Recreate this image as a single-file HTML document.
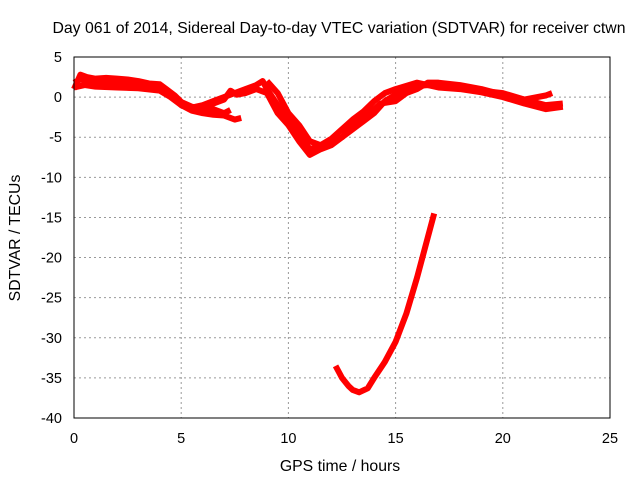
<!DOCTYPE html>
<html><head><meta charset="utf-8"><style>
body{margin:0;background:#fff}
svg{display:block;font-family:"Liberation Sans",sans-serif}
</style></head><body>
<svg id="chart" width="640" height="480">
<rect width="640" height="480" fill="#fff"/>
<text x="339" y="33" font-size="15.8" text-anchor="middle">Day 061 of 2014, Sidereal Day-to-day VTEC variation (SDTVAR) for receiver ctwn</text>
<g id="grid"></g>
<g id="series"></g>
<rect x="74" y="57" width="536" height="361" fill="none" stroke="#000"/>
<g id="ticks" font-size="14.5"></g>
<text x="340" y="471" font-size="15.8" text-anchor="middle">GPS time / hours</text>
<text transform="translate(20,238) rotate(-90)" font-size="15.8" text-anchor="middle">SDTVAR / TECUs</text>
</svg>
<script>
const xTicks=[0,5,10,15,20,25];
const yTicks=[5,0,-5,-10,-15,-20,-25,-30,-35,-40];
const seriesA_t=[0,0.3,0.6,1,1.5,2,2.5,3,3.5,4,4.3,4.7,5,5.5,6,6.5,7,7.5,7.8];
const seriesA_v=[1.8,2.2,2,1.9,1.8,1.8,1.6,1.6,1.3,1.2,0.8,-0.2,-1,-1.7,-2,-2.2,-2.3,-2.8,-2.6];
const seriesE_t=[0,0.3,0.6,1,1.5,2,2.5,3,3.5,4,4.3,4.7,5,5.5,6,6.5,7,7.3];
const seriesE_v=[1.0,2.8,2.5,2.3,2.4,2.3,2.2,2.0,1.7,1.6,1.0,0.2,-0.6,-1.2,-1.5,-1.5,-2.0,-1.6];
const seriesB_t=[0,0.5,1,2,3,4,4.5,5,5.5,6,6.5,7,7.5,8,8.5,8.8,9,9.5,10,10.5,11,11.5,12,12.5,13,13.5,14,14.5,15,15.5,16,16.5,17,18,19,20,21,22,22.8];
const seriesB_v=[1.2,1.5,1.3,1.2,1.1,0.8,0,-1,-1.3,-1,-0.5,0,0.5,1,1.5,2,1,-1,-3,-4.5,-6.5,-6,-5.5,-5,-4,-3,-2,-0.5,0.3,1,1.4,1.5,1.5,1.3,0.8,0.5,-0.3,-1,-0.8];
const seriesC_t=[6,6.5,7,7.3,7.6,8,8.5,9,9.5,10,10.5,11,11.5,12,12.5,13,13.5,14,14.3,15,15.5,16,16.5,17,18,19,20,21,22,22.3];
const seriesC_v=[-1.5,-0.8,-0.3,0.8,0.3,0.5,1,0.5,-2,-3.5,-5.5,-7.2,-6.5,-6,-5,-3.5,-2.5,-1.5,-0.8,-0.5,0.5,1,1.8,1.8,1.5,1,0.3,-0.3,0.2,0.5];
const seriesF_t=[9,9.5,10,10.5,11,11.5,12,12.5,13,13.5,14,14.5,15,16,17,18,19,20,21,22,22.8];
const seriesF_v=[2,0.5,-2,-3.5,-5.5,-6,-5.2,-4,-2.8,-1.8,-0.5,0.5,1,1.8,1.2,1,0.6,0,-0.8,-1.5,-1.2];
const seriesD_t=[12.2,12.5,12.8,13,13.3,13.7,14,14.5,15,15.5,16,16.5,16.8];
const seriesD_v=[-33.5,-35,-36,-36.5,-36.8,-36.3,-35,-33,-30.5,-27,-22.5,-17.5,-14.5];
const allSeries=[[seriesA_t,seriesA_v],[seriesE_t,seriesE_v],[seriesB_t,seriesB_v],[seriesC_t,seriesC_v],[seriesF_t,seriesF_v],[seriesD_t,seriesD_v]];
const NS='http://www.w3.org/2000/svg';
function X(t){return 74+t*536/25;}
function Y(v){return 57+(5-v)*361/45;}
const grid=document.getElementById('grid'),ticks=document.getElementById('ticks'),ser=document.getElementById('series');
xTicks.forEach(t=>{
 if(t>0&&t<25){const l=document.createElementNS(NS,'line');
 l.setAttribute('x1',X(t));l.setAttribute('x2',X(t));l.setAttribute('y1',57);l.setAttribute('y2',418);
 l.setAttribute('stroke','#999');l.setAttribute('stroke-dasharray','2,3');
 
 
 grid.appendChild(l);}
 const tx=document.createElementNS(NS,'text');
 tx.setAttribute('x',X(t));tx.setAttribute('y',443);tx.setAttribute('text-anchor','middle');
 tx.textContent=t;
 
 
 ticks.appendChild(tx);
});
yTicks.forEach(v=>{
 if(v<5&&v>-40){const l=document.createElementNS(NS,'line');
 l.setAttribute('x1',74);l.setAttribute('x2',610);l.setAttribute('y1',Y(v));l.setAttribute('y2',Y(v));
 l.setAttribute('stroke','#999');l.setAttribute('stroke-dasharray','2,3');
 
 
 grid.appendChild(l);}
 const tx=document.createElementNS(NS,'text');
 tx.setAttribute('x',62);tx.setAttribute('y',Y(v)+5);tx.setAttribute('text-anchor','end');
 tx.textContent=v;
 
 
 ticks.appendChild(tx);
});
allSeries.forEach(([ts,vs],i)=>{
 const p=document.createElementNS(NS,'polyline');
 p.setAttribute('points',ts.map((t,j)=>X(t)+','+Y(vs[j])).join(' '));
 p.setAttribute('fill','none');p.setAttribute('stroke','#f00');
 p.setAttribute('stroke-width',i==5?6:6);p.setAttribute('stroke-linejoin','round');
 
 
 ser.appendChild(p);
});
</script>
</body></html>
